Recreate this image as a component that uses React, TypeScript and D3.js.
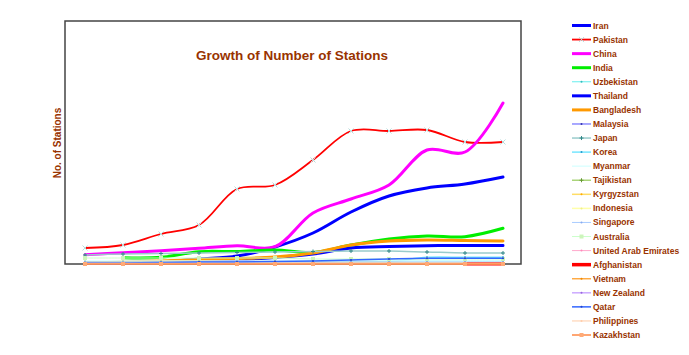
import React from "react";
import * as d3 from "d3";

const periods = ["1", "2", "3", "4", "5", "6", "7", "8", "9", "10", "11", "12"];

const countries = [
  "Iran", "Pakistan", "China", "India", "Uzbekistan", "Thailand", "Bangladesh", "Malaysia",
  "Japan", "Korea", "Myanmar", "Tajikistan", "Kyrgyzstan", "Indonesia", "Singapore", "Australia",
  "United Arab Emirates", "Afghanistan", "Vietnam", "New Zealand", "Qatar", "Philippines", "Kazakhstan",
];

type V = number | null;
const iran: V[] = [1, 1, 2, 5, 8, 17, 31, 52, 68, 76, 80, 87];
const pakistan: V[] = [16, 19, 30, 39, 75, 79, 104, 133, 133, 134, 122, 122];
const china: V[] = [9.3, 11.3, 13.3, 15.7, 18.3, 17.3, 51, 65, 79, 114, 112, 161];
const india: V[] = [null, 6.3, 6.7, 12.3, 12.5, 14, 11.5, 19, 25, 28, 27.3, 35.7];
const uzbekistan: V[] = [2, 2, 2, 2, 2.5, 2.5, 3, 3, 3, 3, 3, 3];
const thailand: V[] = [1, 1, 1.5, 2.5, 4, 6.5, 10, 16, 17.5, 18.3, 18.5, 18.5];
const bangladesh: V[] = [1, 2, 3, 4.5, 5.5, 7, 11, 19, 23, 24, 23.5, 23];
const malaysia: V[] = [1, 1, 1, 1, 1, 1, 1, 1, 1, 1, 1, 1];
const japan: V[] = [9, 10, 10.5, 11, 11.5, 12, 12.5, 13, 13, 12, 11, 11];
const korea: V[] = [1, 1, 1, 1, 1, 1.5, 2, 2.5, 2.5, 6.7, 6.7, 6.7];
const myanmar: V[] = [3, 3, 3, 3, 3, 3, 3, 3, 3, 3, 3, 3];
const tajikistan: V[] = [1.5, 1.5, 1.5, 1.5, 1.5, 1.5, 1.5, 1.5, 1.5, 1, 1, 1];
const kyrgyzstan: V[] = [1, 1, 1, 1, 1, 1, 1, 1, 1, 1, 1, 1];
const indonesia: V[] = [1, 1, 1, 1, 1, 1, 1, 1, 1, 1, 1, 1];
const singapore: V[] = [2, 2, 2, 2, 2, 2, 2, 2, 2, 2, 2, 2];
const australia: V[] = [6, 6, 6, 6, 6, 6, 5, 5, 5, 5, 5, 5];
const uae: V[] = [0.5, 0.5, 0.5, 0.5, 0.5, 0.5, 0.5, 0.5, 0.5, 0.5, 0.5, 0.5];
const afghanistan: V[] = [null, null, null, null, null, null, null, null, null, null, 0.3, 0.3];
const vietnam: V[] = [0.5, 0.5, 0.5, 0.5, 0.5, 0.5, 0.5, 0.5, 0.5, 0.5, 0.5, 0.5];
const newZealand: V[] = [0.5, 0.5, 0.5, 0.5, 0.5, 0.5, 0.5, 0.5, 0.5, 0.5, 0.5, 0.5];
const qatar: V[] = [1, 1, 1.5, 2, 2, 2.5, 3, 4, 5, 5.7, 5.7, 5.7];
const philippines: V[] = [0.5, 0.5, 0.5, 0.5, 0.5, 0.5, 0.5, 0.5, 0.5, 0.5, 0.5, 0.5];
const kazakhstan: V[] = [0, 0, 0, 0, 0, 0, 0, 0, 0, 0, 0, 0];

const seriesValues: V[][] = [
  iran, pakistan, china, india, uzbekistan, thailand, bangladesh, malaysia, japan, korea, myanmar,
  tajikistan, kyrgyzstan, indonesia, singapore, australia, uae, afghanistan, vietnam, newZealand,
  qatar, philippines, kazakhstan,
];

type Style = { color: string; width: number; marker?: string; markerColor?: string };
const styles: Style[] = [
  { color: "#0000ff", width: 3 },
  { color: "#ff0000", width: 1.8, marker: "x", markerColor: "#b8dcdc" },
  { color: "#ff00ff", width: 3 },
  { color: "#00ee00", width: 3 },
  { color: "#66eeee", width: 1, marker: "dot", markerColor: "#33bbbb" },
  { color: "#0000ff", width: 3 },
  { color: "#ff9900", width: 3 },
  { color: "#8c8cff", width: 1.5, marker: "dot", markerColor: "#3333aa" },
  { color: "#99cccc", width: 1.5, marker: "plus", markerColor: "#338888" },
  { color: "#77e6ff", width: 1.5, marker: "dot", markerColor: "#2299cc" },
  { color: "#ddffff", width: 1.5 },
  { color: "#aad47a", width: 1.5, marker: "plus", markerColor: "#669933" },
  { color: "#ffdd66", width: 1.5, marker: "dot", markerColor: "#ffaa00" },
  { color: "#ffffaa", width: 1.5, marker: "dot", markerColor: "#eeee88" },
  { color: "#aaccff", width: 1, marker: "dot", markerColor: "#88aaee" },
  { color: "#ccffcc", width: 1, marker: "square", markerColor: "#ccf5bb" },
  { color: "#ffaacc", width: 1, marker: "dot", markerColor: "#ff88bb" },
  { color: "#ff0000", width: 3.5 },
  { color: "#ffaa44", width: 1.5, marker: "dot", markerColor: "#ee8800" },
  { color: "#ccaaff", width: 1.5, marker: "dot", markerColor: "#9966dd" },
  { color: "#3366ff", width: 1.5, marker: "dot", markerColor: "#2244cc" },
  { color: "#ffddc4", width: 1.5, marker: "dot", markerColor: "#ffccaa" },
  { color: "#ff8844", width: 1.5, marker: "square", markerColor: "#ffaa77" },
];

const TEXT = "#993300";
const FONT = "Arial, 'Liberation Sans', sans-serif";

function Marker({ kind, x, y, color }: { kind?: string; x: number; y: number; color?: string }) {
  if (!kind) return null;
  const c = color || "#888";
  if (kind === "x")
    return (
      <path d={`M${x - 2.5},${y - 2.5}L${x + 2.5},${y + 2.5}M${x - 2.5},${y + 2.5}L${x + 2.5},${y - 2.5}`} stroke={c} strokeWidth={1} />
    );
  if (kind === "plus")
    return <path d={`M${x - 2},${y}L${x + 2},${y}M${x},${y - 2}L${x},${y + 2}`} stroke={c} strokeWidth={1} />;
  if (kind === "square") return <rect x={x - 2} y={y - 2} width={4} height={4} fill={c} />;
  return <circle cx={x} cy={y} r={1} fill={c} />;
}

export default function App() {
  const W = 689, H = 355;
  const left = 65, top = 21, right = 521, bottom = 264;
  const x = d3.scalePoint<string>().domain(periods).range([85, 503]);
  const y = d3.scaleLinear().domain([0, 243]).range([bottom, top]);
  const line = d3
    .line<V>()
    .defined((d) => d != null)
    .x((_, i) => x(periods[i]) as number)
    .y((d) => y(d as number))
    .curve(d3.curveCatmullRom.alpha(0.5));

  const legendY = d3.scaleLinear().domain([0, countries.length - 1]).range([25.5, 335]);

  return (
    <svg width={W} height={H} style={{ position: "absolute", left: 0, top: 0, display: "block", background: "#fff" }}>
      <rect x={left} y={top} width={right - left} height={bottom - top} fill="#fff" stroke="#444" strokeWidth={1.5} />
      <text x={292} y={60} textAnchor="middle" fontFamily={FONT} fontWeight="bold" fontSize={13.5} fill={TEXT}>
        Growth of Number of  Stations
      </text>
      <text
        transform={`translate(61,143) rotate(-90)`}
        textAnchor="middle"
        fontFamily={FONT}
        fontWeight="bold"
        fontSize={10}
        fill={TEXT}
      >
        No. of Stations
      </text>
      <g>
        {seriesValues.map((vals, si) => {
          const s = styles[si];
          return (
            <g key={si}>
              <path d={line(vals) || ""} fill="none" stroke={s.color} strokeWidth={s.width} strokeLinejoin="round" strokeLinecap="round" />
              {vals.map((v, i) =>
                v == null ? null : (
                  <Marker key={i} kind={s.marker} x={x(periods[i]) as number} y={y(v)} color={s.markerColor} />
                )
              )}
            </g>
          );
        })}
      </g>
      <g>
        {countries.map((c, i) => {
          const s = styles[i];
          const ly = legendY(i);
          return (
            <g key={c}>
              <line x1={572} x2={591} y1={ly} y2={ly} stroke={s.color} strokeWidth={s.width} />
              <Marker kind={s.marker} x={581.5} y={ly} color={s.markerColor} />
              <text x={593} y={ly + 3} fontFamily={FONT} fontWeight="bold" fontSize={8.5} fill={TEXT}>
                {c}
              </text>
            </g>
          );
        })}
      </g>
    </svg>
  );
}
